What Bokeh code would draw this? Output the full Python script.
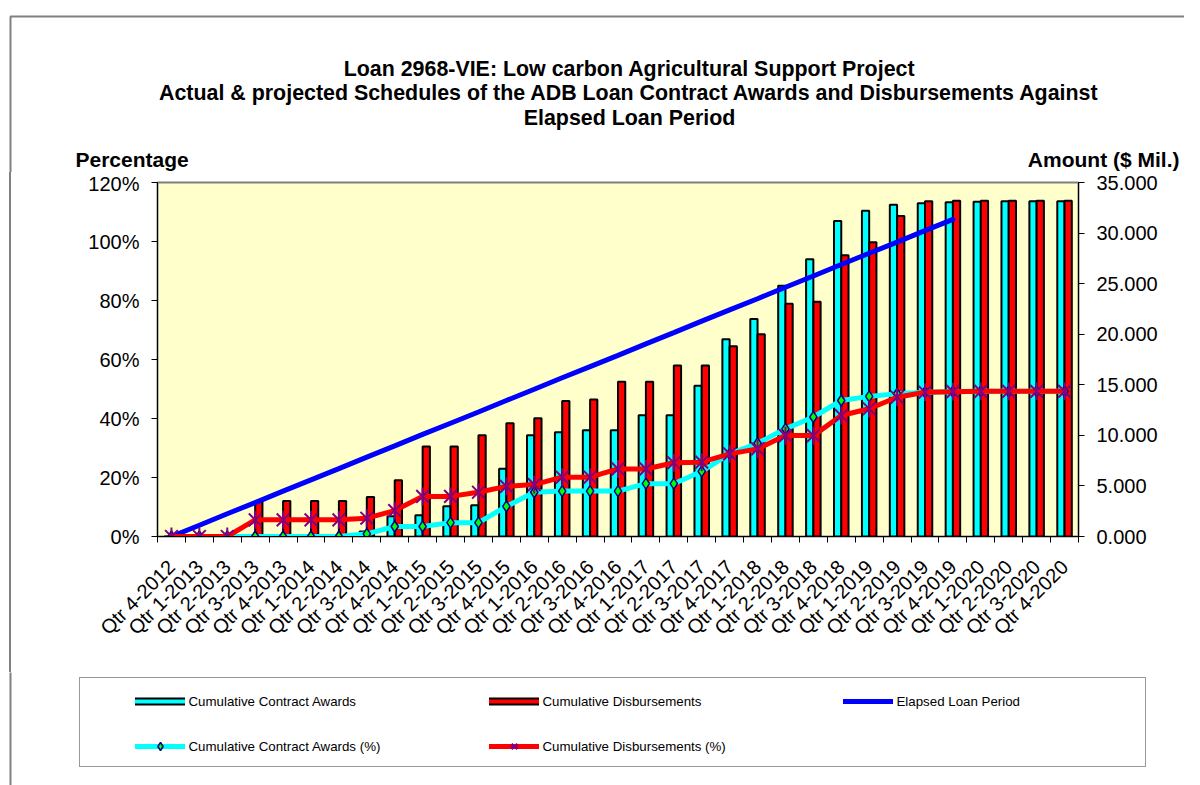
import math
from bokeh.plotting import figure
from bokeh.layouts import column, row
from bokeh.models import (Range1d, LinearAxis, FixedTicker, NumeralTickFormatter, Label,
                          Legend, LegendItem, ColumnDataSource, BoxAnnotation, Div)
from bokeh.transform import dodge
from bokeh.embed import file_html
from bokeh.resources import INLINE

quarters = ["Qtr 4-2012",
            "Qtr 1-2013", "Qtr 2-2013", "Qtr 3-2013", "Qtr 4-2013",
            "Qtr 1-2014", "Qtr 2-2014", "Qtr 3-2014", "Qtr 4-2014",
            "Qtr 1-2015", "Qtr 2-2015", "Qtr 3-2015", "Qtr 4-2015",
            "Qtr 1-2016", "Qtr 2-2016", "Qtr 3-2016", "Qtr 4-2016",
            "Qtr 1-2017", "Qtr 2-2017", "Qtr 3-2017", "Qtr 4-2017",
            "Qtr 1-2018", "Qtr 2-2018", "Qtr 3-2018", "Qtr 4-2018",
            "Qtr 1-2019", "Qtr 2-2019", "Qtr 3-2019", "Qtr 4-2019",
            "Qtr 1-2020", "Qtr 2-2020", "Qtr 3-2020", "Qtr 4-2020"]

# $ million (right axis)
contract_awards = [0, 0, 0, 0, 0, 0, 0, 0.5, 2.0, 2.1, 3.0, 3.1, 6.7, 10.0, 10.3, 10.5, 10.5,
                   12.0, 12.0, 14.9, 19.5, 21.5, 24.8, 27.4, 31.2, 32.2, 32.8, 32.95, 33.05,
                   33.1, 33.15, 33.15, 33.15]
disbursements = [0, 0, 0, 3.5, 3.5, 3.5, 3.5, 3.9, 5.55, 8.9, 8.9, 10.0, 11.2, 11.7, 13.4, 13.55,
                 15.3, 15.3, 16.9, 16.9, 18.8, 20.0, 23.0, 23.2, 27.8, 29.1, 31.7, 33.15, 33.2,
                 33.2, 33.2, 33.2, 33.2]

# percent (left axis)
elapsed_pct = [0, 3.8, 7.7, 11.5, 15.4, 19.2, 23.0, 26.9, 30.7, 34.6, 38.4, 42.2, 46.1, 49.9,
               53.8, 57.6, 61.4, 65.3, 69.1, 73.0, 76.8, 80.6, 84.5, 88.3, 92.2, 96.0, 99.8,
               103.7, 107.5]
awards_pct = [0, 0, 0, 0, 0, 0, 0, 0.9, 3.4, 3.4, 4.7, 4.7, 10.2, 15.0, 15.4, 15.4, 15.4, 17.9,
              17.9, 22.1, 28.0, 31.6, 36.5, 40.5, 46.1, 47.5, 48.4, 48.9, 49.1, 49.2, 49.2,
              49.2, 49.2]
disb_pct = [0, 0, 0, 5.65, 5.65, 5.65, 5.65, 6.2, 8.8, 13.6, 13.6, 15.0, 17.0, 17.6, 20.1, 20.1,
            22.9, 22.9, 25.0, 25.2, 28.0, 29.7, 34.2, 34.2, 41.0, 43.3, 47.2, 48.9, 49.1, 49.2,
            49.2, 49.2, 49.2]

pct_ticks = [0, 20, 40, 60, 80, 100, 120]
amt_ticks = [0, 5, 10, 15, 20, 25, 30, 35]

title_lines = ["Loan 2968-VIE: Low carbon Agricultural Support Project",
               "Actual & projected Schedules of the ADB Loan Contract Awards and Disbursements Against",
               "Elapsed Loan Period"]
left_title = "Percentage"
right_title = "Amount ($ Mil.)"

FONT = "Liberation Sans"
BORDER = "#808080"
W = 1184
H_TOP, H_MAIN, H_BOT = 172, 500, 113
STRIP = 12


def blank(width, height, y0, y1):
    f = figure(width=width, height=height, output_backend="svg", toolbar_location=None,
               x_range=Range1d(0, width), y_range=Range1d(y0, y1),
               x_axis_location=None, y_axis_location=None, min_border=0,
               background_fill_color="white", border_fill_color="white",
               outline_line_color=None)
    f.grid.visible = False
    return f


def chart_border(f):
    # chart-area border: gray line on the left (x=10) and top (y=16)
    f.add_layout(BoxAnnotation(left=10, right=5000, top=16, bottom=5000, fill_alpha=0,
                               line_color=BORDER, line_alpha=1, line_width=2))


# ---------------- top: titles ----------------
top = blank(W, H_TOP, H_TOP, 0)
chart_border(top)
for i, t in enumerate(title_lines):
    top.add_layout(Label(x=629, y=68 + 24.5 * i, text=t, text_align="center",
                         text_baseline="middle", text_font=FONT, text_font_style="bold",
                         text_font_size="21.4px", text_color="black"))
top.add_layout(Label(x=75, y=159, text=left_title, text_align="left", text_baseline="middle",
                     text_font=FONT, text_font_style="bold", text_font_size="21px",
                     text_color="black"))
top.add_layout(Label(x=1179, y=159, text=right_title, text_align="right",
                     text_baseline="middle", text_font=FONT, text_font_style="bold",
                     text_font_size="21px", text_color="black"))

# ---------------- left strip (border line) ----------------
strip = Div(text="", width=2, height=H_MAIN, margin=(0, STRIP - 11, 0, 9),
            styles={"background-color": BORDER})

# ---------------- main chart ----------------
n = len(quarters)
xc = [i + 0.5 for i in range(n)]
src = ColumnDataSource(dict(x=xc, awards=contract_awards, disb=disbursements,
                            awards_pct=awards_pct, disb_pct=disb_pct))
src_el = ColumnDataSource(dict(x=xc[:len(elapsed_pct)], y=elapsed_pct))

p = figure(width=W - STRIP, height=H_MAIN, output_backend="svg", toolbar_location=None,
           x_range=Range1d(0, n), y_range=Range1d(0, 120),
           min_border_left=145, min_border_right=106, min_border_top=10, min_border_bottom=136,
           background_fill_color="#FFFFCC", border_fill_color="white")
p.grid.visible = False
p.outline_line_color = BORDER
p.outline_line_width = 2

la = p.yaxis[0]
la.ticker = FixedTicker(ticks=pct_ticks)
la.major_label_overrides = {t: f"{t}%" for t in pct_ticks}
ba = p.xaxis[0]
ba.ticker = FixedTicker(ticks=xc, minor_ticks=list(range(n + 1)))
ba.major_label_overrides = {x: q for x, q in zip(xc, quarters)}
ba.major_label_orientation = math.pi / 4
ba.major_tick_out = 0
ba.major_tick_in = 0
ba.minor_tick_out = 6
ba.minor_tick_in = 0
ba.major_label_standoff = 21

p.extra_y_ranges = {"amt": Range1d(0, 35)}
ra = LinearAxis(y_range_name="amt", ticker=FixedTicker(ticks=amt_ticks),
                formatter=NumeralTickFormatter(format="0.000"))
p.add_layout(ra, "right")

for ax in (la, ra):
    ax.major_tick_out = 6
    ax.major_tick_in = 0
    ax.minor_tick_out = 0
    ax.minor_tick_in = 0
    ax.major_label_standoff = 12
for ax in (la, ra, ba):
    ax.axis_line_color = "black"
    ax.major_tick_line_color = "black"
    ax.minor_tick_line_color = "black"
    ax.major_label_text_font = FONT
    ax.major_label_text_font_size = "20px"
    ax.major_label_text_color = "black"

p.vbar(x=dodge("x", -0.13, range=p.x_range), top="awards", width=0.26, source=src,
       y_range_name="amt", fill_color="#00FFFF", line_color="black", line_width=2)
p.vbar(x=dodge("x", 0.13, range=p.x_range), top="disb", width=0.26, source=src,
       y_range_name="amt", fill_color="#FF0000", line_color="black", line_width=2)

p.line("x", "y", source=src_el, line_color="#0000FF", line_width=5, line_cap="round")
p.line("x", "awards_pct", source=src, line_color="#00FFFF", line_width=5, line_cap="square")
p.scatter("x", "awards_pct", source=src, marker="diamond", size=11, fill_color="#00FF00",
          line_color="#000080", line_width=1.5)
p.line("x", "disb_pct", source=src, line_color="#FF0000", line_width=5, line_cap="square")
p.scatter("x", "disb_pct", source=src, marker="x", size=18, line_color="#800080", line_width=2)
p.scatter("x", "disb_pct", source=src, marker="dash", angle=math.pi / 2, size=18,
          line_color="#800080", line_width=2)

# ---------------- bottom: legend ----------------
bot = blank(W, H_BOT, H_TOP + H_MAIN + H_BOT, H_TOP + H_MAIN)
chart_border(bot)
# legend-only renderers: one point far outside the visible range, so nothing shows
off = ColumnDataSource(dict(x=[-1000], y=[-1000]))
sw_black1 = bot.line("x", "y", source=off, line_color="black", line_width=8, line_cap="square")
sw_cyan = bot.line("x", "y", source=off, line_color="#00FFFF", line_width=4, line_cap="square")
sw_black2 = bot.line("x", "y", source=off, line_color="black", line_width=8, line_cap="square")
sw_red = bot.line("x", "y", source=off, line_color="#FF0000", line_width=4, line_cap="square")
lg_el = bot.line("x", "y", source=off, line_color="#0000FF", line_width=5, line_cap="square")
lg_a = bot.line("x", "y", source=off, line_color="#00FFFF", line_width=5, line_cap="square")
lg_am = bot.scatter("x", "y", source=off, marker="diamond", size=11, fill_color="#00FF00",
                    line_color="#000080", line_width=1.5)
lg_d = bot.line("x", "y", source=off, line_color="#FF0000", line_width=5, line_cap="square")
lg_dm1 = bot.scatter("x", "y", source=off, marker="x", size=18, line_color="#800080",
                     line_width=2)
lg_dm2 = bot.scatter("x", "y", source=off, marker="dash", angle=math.pi / 2, size=18,
                     line_color="#800080", line_width=2)
dummy = bot.line("x", "y", source=off, line_alpha=0)

box = Legend(items=[LegendItem(label=" ", renderers=[dummy])], location=(79, 18),
             padding=0, margin=0, glyph_width=1, glyph_height=88, label_height=88,
             label_width=1064, label_standoff=0, border_line_color="#333333",
             border_line_width=1, background_fill_color="white", background_fill_alpha=1)
bot.add_layout(box)

leg = Legend(items=[
    LegendItem(label="Cumulative Contract Awards", renderers=[sw_black1, sw_cyan]),
    LegendItem(label="Cumulative Disbursements", renderers=[sw_black2, sw_red]),
    LegendItem(label="Elapsed Loan Period", renderers=[lg_el]),
    LegendItem(label="Cumulative Contract Awards (%)", renderers=[lg_a, lg_am]),
    LegendItem(label="Cumulative Disbursements (%)", renderers=[lg_d, lg_dm1, lg_dm2]),
], location=(134.5, 29), orientation="horizontal", ncols=3, padding=0, margin=0,
    spacing=25, glyph_width=50, glyph_height=20, label_height=20, label_width=275,
    label_standoff=4, label_text_font=FONT, label_text_font_size="13.3px",
    label_text_color="black", border_line_alpha=0, background_fill_alpha=0)
bot.add_layout(leg)

layout = column(top, row(strip, p, spacing=0), bot, spacing=0)
open("out.html", "w").write(file_html(layout, INLINE))
